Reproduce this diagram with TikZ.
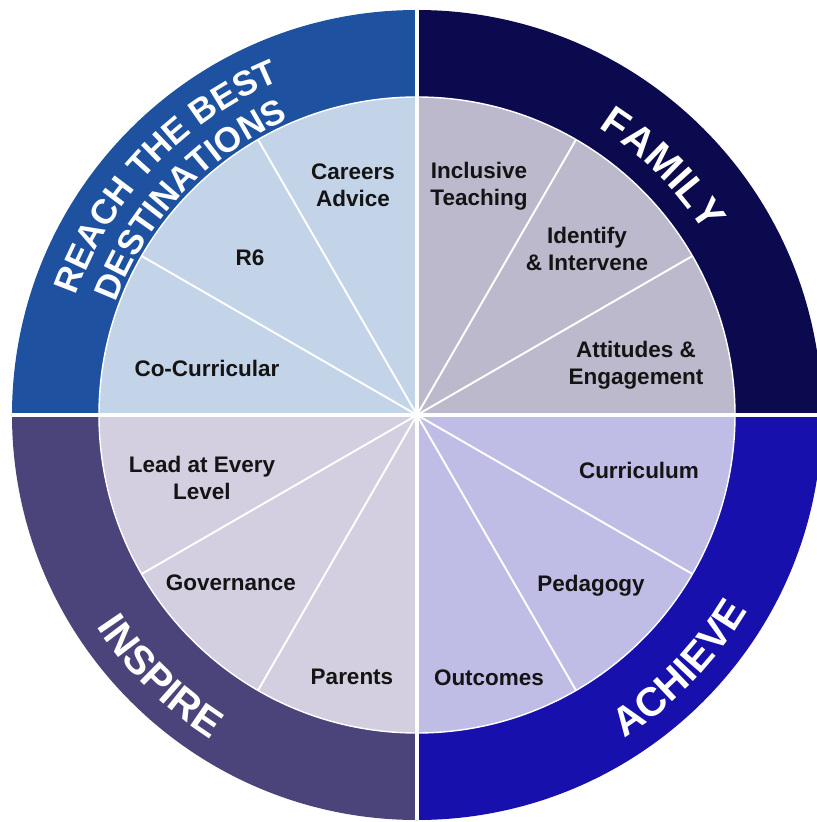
\documentclass[tikz,border=0pt]{standalone}
\usepackage{fontspec}
\setmainfont{Liberation Sans}
\usepackage{tikz}
\usetikzlibrary{decorations.text}
\definecolor{reachring}{RGB}{30,82,160}
\definecolor{familyring}{RGB}{12,10,78}
\definecolor{achievering}{RGB}{24,16,172}
\definecolor{inspirering}{RGB}{74,68,122}
\definecolor{reachfill}{RGB}{196,212,232}
\definecolor{familyfill}{RGB}{189,185,205}
\definecolor{achievefill}{RGB}{191,189,230}
\definecolor{inspirefill}{RGB}{211,207,224}
\definecolor{labelink}{RGB}{20,20,20}
\newcommand{\ringfont}{\fontsize{23pt}{27pt}\selectfont\bfseries}
\newcommand{\reachfont}{\fontsize{19.8pt}{24pt}\selectfont\bfseries}
\begin{document}
\begin{tikzpicture}[x=0.02cm, y=0.02cm,
	spoke/.style={white, line width=1.1pt},
	divider/.style={white, line width=1.8pt},
	sector/.style={font=\fontsize{12.8pt}{15.4pt}\selectfont\bfseries, text=labelink, align=center, inner sep=0pt},
	ringtext/.style={decorate, decoration={text along path, text align=center, text color=white}}]
			\useasboundingbox (-417,-407) rectangle (400,415);
			\clip (-417,-407) rectangle (400,415);
			\fill[reachring] (0,0) -- (180:405) arc[start angle=180, end angle=90, radius=405] -- cycle;
			\fill[familyring] (0,0) -- (90:405) arc[start angle=90, end angle=0, radius=405] -- cycle;
			\fill[achievering] (0,0) -- (0:405) arc[start angle=0, end angle=-90, radius=405] -- cycle;
			\fill[inspirering] (0,0) -- (270:405) arc[start angle=270, end angle=180, radius=405] -- cycle;
			\fill[reachfill] (0,0) -- (180:318) arc[start angle=180, end angle=90, radius=318] -- cycle;
			\fill[familyfill] (0,0) -- (90:318) arc[start angle=90, end angle=0, radius=318] -- cycle;
			\fill[achievefill] (0,0) -- (0:318) arc[start angle=0, end angle=-90, radius=318] -- cycle;
			\fill[inspirefill] (0,0) -- (270:318) arc[start angle=270, end angle=180, radius=318] -- cycle;
			\draw[white, line width=0.8pt] (0,0) circle[radius=318];
			\draw[spoke] (0,0)--(30:318);
			\draw[spoke] (0,0)--(60:318);
			\draw[spoke] (0,0)--(120:318);
			\draw[spoke] (0,0)--(150:318);
			\draw[spoke] (0,0)--(210:318);
			\draw[spoke] (0,0)--(240:318);
			\draw[spoke] (0,0)--(300:318);
			\draw[spoke] (0,0)--(330:318);
			\draw[divider] (-405,0)--(405,0);
			\draw[divider] (0,-405)--(0,405);
			\path[ringtext, decoration={text={|\reachfont|REACH THE BEST}}] (180:361) arc[start angle=180, end angle=93, radius=361];
			\path[ringtext, decoration={text={|\reachfont|DESTINATIONS}}] (180:322) arc[start angle=180, end angle=93, radius=322];
			\path[ringtext, decoration={text={|\ringfont|FAMILY}}] (70:340) arc[start angle=70, end angle=20, radius=340];
			\path[ringtext, decoration={text={|\ringfont|ACHIEVE}}] (291:384) arc[start angle=291, end angle=341, radius=384];
			\path[ringtext, decoration={text={|\ringfont|INSPIRE}}] (200:384) arc[start angle=200, end angle=251, radius=384];
			\node[sector] (careers) at (-64,230) {Careers\\Advice};
			\node[sector] (rsix) at (-167,157) {R6};
			\node[sector] (cocurr) at (-210,47) {Co-Curricular};
			\node[sector] (inclusive) at (62,229) {Inclusive\\Teaching};
			\node[sector] (identify) at (170,166) {Identify\\\& Intervene};
			\node[sector] (attitudes) at (219,50) {Attitudes \&\\Engagement};
			\node[sector] (curriculum) at (222,-55) {Curriculum};
			\node[sector] (pedagogy) at (174,-171) {Pedagogy};
			\node[sector] (outcomes) at (72,-263) {Outcomes};
			\node[sector] (lead) at (-215,-63) {Lead at Every\\Level};
			\node[sector] (governance) at (-186,-168) {Governance};
			\node[sector] (parents) at (-65,-262) {Parents};
		\end{tikzpicture}
\end{document}
